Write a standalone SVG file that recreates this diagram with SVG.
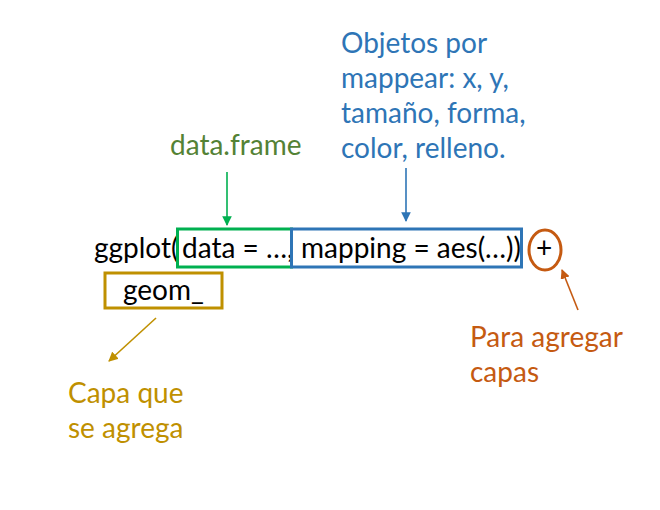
<svg xmlns="http://www.w3.org/2000/svg" width="660" height="510" viewBox="0 0 660 510">
<defs>
<style>
text{font-family:Lato,"Open Sans","Liberation Sans",sans-serif;font-size:28px}
.blk{fill:#000}
.grn{fill:#548235}
.blu{fill:#2E75B6}
.gld{fill:#BF9000}
.org{fill:#C55A11}
.box{fill:none;stroke-width:3}
.ln{fill:none;stroke-width:1.6}
</style>
<marker id="mg" viewBox="0 0 10 10" refX="9" refY="5" markerWidth="6" markerHeight="6" orient="auto"><path d="M0,0L10,5L0,10z" fill="#00B050"/></marker>
<marker id="mb" viewBox="0 0 10 10" refX="9" refY="5" markerWidth="6" markerHeight="6" orient="auto"><path d="M0,0L10,5L0,10z" fill="#2E75B6"/></marker>
<marker id="my" viewBox="0 0 10 10" refX="9" refY="5" markerWidth="6" markerHeight="6" orient="auto"><path d="M0,0L10,5L0,10z" fill="#BF9000"/></marker>
<marker id="mo" viewBox="0 0 10 10" refX="9" refY="5" markerWidth="6" markerHeight="6" orient="auto"><path d="M0,0L10,5L0,10z" fill="#C55A11"/></marker>
</defs>
<rect width="660" height="510" fill="#fff"/>
<g id="code">
<text class="blk" x="94" y="258">ggplot(</text>
<text class="blk" x="182" y="258">data = …,</text>
<text class="blk" x="301" y="258">mapping = aes(…))</text>
<text class="blk" x="536" y="258">+</text>
</g>
<g id="geom">
<rect class="box" x="105" y="273" width="117" height="35" stroke="#BF9000"/>
<text class="blk" x="123" y="300">geom_</text>
</g>
<g id="data-box"><rect class="box" x="177.5" y="229" width="114" height="38" stroke="#00B050"/></g>
<g id="mapping-box"><rect class="box" x="291.5" y="229" width="230" height="38" stroke="#2E75B6"/></g>
<g id="plus-circle"><ellipse class="box" cx="545" cy="250" rx="16" ry="20" stroke="#C55A11"/></g>
<g id="label-data"><text class="grn" x="170" y="155">data.frame</text></g>
<g id="label-mapping">
<text class="blu" x="341" y="53">Objetos por</text>
<text class="blu" x="341" y="88">mappear: x, y,</text>
<text class="blu" x="341" y="123">tamaño, forma,</text>
<text class="blu" x="341" y="158">color, relleno.</text>
</g>
<g id="label-plus">
<text class="org" x="470" y="347">Para agregar</text>
<text class="org" x="470" y="382">capas</text>
</g>
<g id="label-geom">
<text class="gld" x="68" y="403">Capa que</text>
<text class="gld" x="68" y="438">se agrega</text>
</g>
<g id="connectors">
<line class="ln" x1="227" y1="172" x2="227" y2="225" stroke="#00B050" marker-end="url(#mg)"/>
<line class="ln" x1="406" y1="168" x2="406" y2="221" stroke="#2E75B6" marker-end="url(#mb)"/>
<line class="ln" x1="156" y1="318" x2="109" y2="361" stroke="#BF9000" marker-end="url(#my)"/>
<line class="ln" x1="578" y1="310" x2="562" y2="270" stroke="#C55A11" marker-end="url(#mo)"/>
</g>
</svg>
